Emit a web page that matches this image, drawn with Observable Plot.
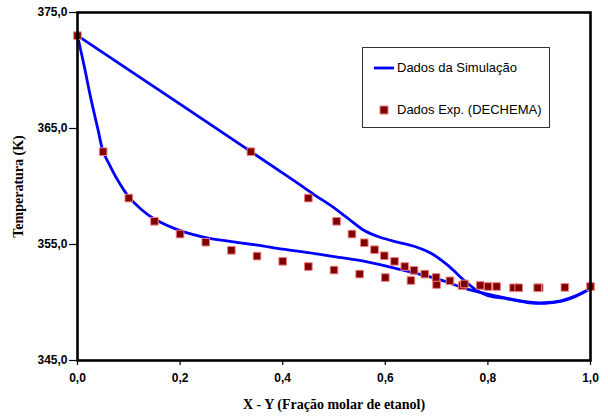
<!DOCTYPE html>
<html>
<head>
<meta charset="utf-8">
<script src="https://cdn.jsdelivr.net/npm/d3@7"></script>
<script src="https://cdn.jsdelivr.net/npm/@observablehq/plot@0.6"></script>
<style>
  body { margin: 0; background: #fff; }
  #wrap { position: relative; width: 608px; height: 416px; }
  #legend { position: absolute; left: 362px; top: 47px; width: 186px; height: 79px;
    border: 1px solid #333; background: #fff; font-family: "Liberation Sans", Arial, sans-serif; font-size: 13px; color: #000; }
  .lg-row { position: absolute; left: 0; display: flex; align-items: center; }
  .lg-row span { margin-left: 3px; }
</style>
</head>
<body>
<div id="wrap"></div>
<script>
// Simulation curves (Dados da Simulação)
const simBubbleX = [0, 0.013, 0.026, 0.04, 0.05, 0.062, 0.075, 0.1, 0.125, 0.15, 0.2, 0.25, 0.3, 0.35, 0.4, 0.45, 0.5, 0.56, 0.624, 0.676, 0.715, 0.76, 0.812, 0.877, 0.91, 0.942, 0.97, 1.0];
const simBubbleT = [373.0, 370.4, 367.6, 364.9, 363.0, 361.9, 360.8, 359.1, 358.0, 357.2, 356.2, 355.6, 355.25, 354.95, 354.6, 354.3, 353.95, 353.55, 352.9, 352.33, 351.84, 351.15, 350.6, 350.05, 349.98, 350.15, 350.55, 351.2];
const simDewY = [0, 0.2, 0.338, 0.422, 0.461, 0.494, 0.526, 0.559, 0.591, 0.624, 0.656, 0.689, 0.721, 0.754, 0.78, 0.80, 0.84, 0.877, 0.91, 0.942, 0.97, 1.0];
const simDewT = [373.0, 367.1, 363.0, 360.5, 359.3, 358.35, 357.3, 356.2, 355.6, 355.2, 354.85, 354.25, 353.25, 351.9, 351.0, 350.6, 350.3, 350.0, 349.93, 350.1, 350.5, 351.2];

// Experimental data (Dados Exp. (DECHEMA))
const expBubbleX = [0, 0.05, 0.10, 0.15, 0.20, 0.25, 0.30, 0.35, 0.40, 0.45, 0.50, 0.55, 0.60, 0.65, 0.70, 0.75, 0.80, 0.85, 0.90, 0.95, 1.0];
const expBubbleT = [373.0, 363.0, 359.0, 357.0, 355.9, 355.2, 354.5, 354.0, 353.55, 353.1, 352.8, 352.45, 352.15, 351.9, 351.55, 351.45, 351.38, 351.27, 351.27, 351.3, 351.38];
const expDewY = [0.338, 0.45, 0.505, 0.535, 0.559, 0.579, 0.598, 0.618, 0.638, 0.656, 0.677, 0.699, 0.726, 0.754, 0.785, 0.817, 0.86, 0.897];
const expDewT = [363.0, 359.0, 357.0, 355.9, 355.15, 354.55, 354.03, 353.55, 353.1, 352.77, 352.45, 352.16, 351.87, 351.6, 351.47, 351.38, 351.27, 351.27];

const xTicks = [0, 0.2, 0.4, 0.6, 0.8, 1.0];
const yTicks = [345, 355, 365, 375];
const xTitle = "X - Y (Fração molar de etanol)";
const yTitle = "Temperatura (K)";
const legendLine = "Dados da Simulação";
const legendDots = "Dados Exp. (DECHEMA)";

const simBubble = simBubbleX.map((x, i) => ({x, t: simBubbleT[i]}));
const simDew = simDewY.map((x, i) => ({x, t: simDewT[i]}));
const exp = expBubbleX.map((x, i) => ({x, t: expBubbleT[i]}))
  .concat(expDewY.map((x, i) => ({x, t: expDewT[i]})));

const fmt = d => d.toFixed(1).replace(".", ",");
const sans = "Liberation Sans, Arial, sans-serif";
const serif = "Liberation Serif, Times New Roman, serif";

const chart = Plot.plot({
  width: 608,
  height: 416,
  marginLeft: 77,
  marginRight: 18,
  marginTop: 12,
  marginBottom: 56,
  style: {background: "#fff", color: "#000"},
  x: {domain: [0, 1]},
  y: {domain: [345, 375]},
  marks: [
    Plot.axisX({ticks: xTicks, tickFormat: fmt, tickSize: 5, tickPadding: 8, label: null,
      fontFamily: sans, fontSize: 12, fontWeight: "bold", strokeWidth: 1.2}),
    Plot.axisY({ticks: yTicks, tickFormat: fmt, tickSize: 8, tickPadding: 2, label: null,
      fontFamily: sans, fontSize: 12, fontWeight: "bold", strokeWidth: 1.2}),
    Plot.line(simBubble, {x: "x", y: "t", stroke: "#0000ff", strokeWidth: 2.8, curve: "catmull-rom"}),
    Plot.line(simDew, {x: "x", y: "t", stroke: "#0000ff", strokeWidth: 2.8, curve: "catmull-rom"}),
    Plot.dot(exp, {x: "x", y: "t", symbol: "square", r: 4.3, fill: "#800000", stroke: "#f08080", strokeWidth: 1}),
    Plot.frame({stroke: "#000", strokeWidth: 2.6}),
    Plot.text([xTitle], {frameAnchor: "bottom", dy: 44, lineAnchor: "middle", fontFamily: serif, fontSize: 14, fontWeight: "bold"}),
    Plot.text([yTitle], {frameAnchor: "left", dx: -59, rotate: -90, textAnchor: "middle", lineAnchor: "middle", fontFamily: serif, fontSize: 14, fontWeight: "bold"})
  ]
});
const wrap = document.getElementById("wrap");
wrap.appendChild(chart);

const legend = document.createElement("div");
legend.id = "legend";
legend.innerHTML = `
  <div class="lg-row" style="top:12px;left:11px;">
    <svg width="20" height="12"><line x1="0" x2="20" y1="6" y2="6" stroke="#0000ff" stroke-width="2.8"/></svg>
    <span>${legendLine}</span>
  </div>
  <div class="lg-row" style="top:54px;left:11px;">
    <svg width="20" height="12"><rect x="6" y="2" width="8" height="8" fill="#800000" stroke="#f08080" stroke-width="1"/></svg>
    <span>${legendDots}</span>
  </div>`;
wrap.appendChild(legend);
</script>
</body>
</html>
